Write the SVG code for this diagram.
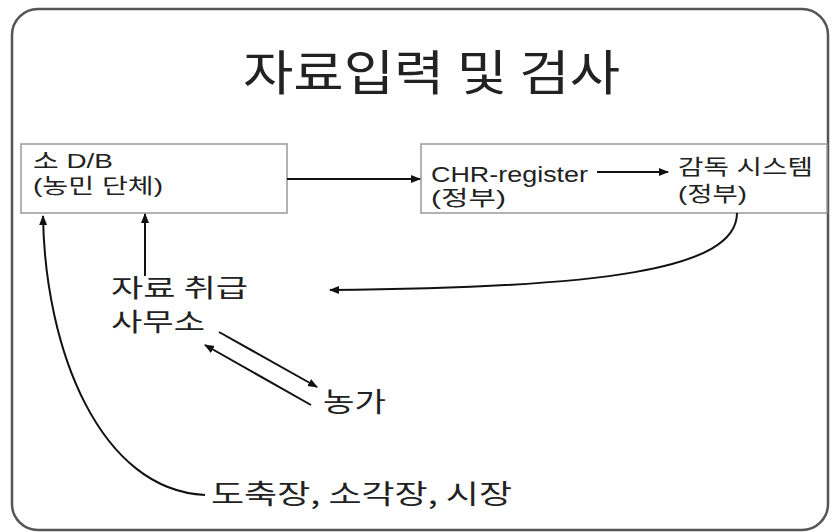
<svg xmlns="http://www.w3.org/2000/svg" width="832" height="532" viewBox="0 0 832 532">
<style>
.t{font-family:"Liberation Sans","Noto Sans CJK KR",sans-serif;fill:#222}
.k{font-family:"Noto Sans CJK KR","Liberation Sans",sans-serif;fill:#222}
.box{fill:#fff;stroke:#999;stroke-width:1.5}
.c{fill:none;stroke:#111;stroke-width:2;marker-end:url(#ah)}
</style>
<defs>
<marker id="ah" viewBox="0 0 10 10" refX="9" refY="5" markerWidth="5" markerHeight="5" orient="auto" markerUnits="strokeWidth">
<path d="M0,1 L10,5 L0,9 Z" fill="#111"/>
</marker>
</defs>
<rect x="0" y="0" width="832" height="532" fill="#fff"/>
<rect x="12" y="9" width="816" height="521" rx="26" fill="#fff" stroke="#555" stroke-width="2.5"/>
<g id="title"><text class="k" x="243" y="90" font-size="48" textLength="377" lengthAdjust="spacingAndGlyphs">자료입력 및 검사</text></g>
<g id="node-db">
<rect class="box" x="21" y="144" width="266" height="69"/>
<text class="t" x="33" y="168" font-size="21" textLength="80" lengthAdjust="spacingAndGlyphs">소 D/B</text>
<text class="t" x="33" y="193" font-size="21" textLength="130" lengthAdjust="spacingAndGlyphs">(농민 단체)</text>
</g>
<g id="node-gov">
<rect class="box" x="421" y="144" width="406" height="69"/>
<text class="t" x="431" y="182" font-size="22" textLength="157" lengthAdjust="spacingAndGlyphs">CHR-register</text>
<text class="t" x="431" y="205" font-size="21" textLength="75" lengthAdjust="spacingAndGlyphs">(정부)</text>
<text class="t" x="678" y="174" font-size="21" textLength="135" lengthAdjust="spacingAndGlyphs">감독 시스템</text>
<text class="t" x="678" y="201" font-size="21" textLength="69" lengthAdjust="spacingAndGlyphs">(정부)</text>
</g>
<g id="node-office">
<text class="k" x="111" y="297" font-size="25" textLength="137" lengthAdjust="spacingAndGlyphs">자료 취급</text>
<text class="k" x="111" y="331" font-size="25" textLength="94" lengthAdjust="spacingAndGlyphs">사무소</text>
</g>
<g id="node-farm"><text class="k" x="323" y="412" font-size="27" textLength="63" lengthAdjust="spacingAndGlyphs">농가</text></g>
<g id="node-market"><text class="k" x="211" y="504" font-size="27" textLength="301" lengthAdjust="spacingAndGlyphs">도축장, 소각장, 시장</text></g>
<g id="connectors">
<path class="c" d="M287 179 L420 179"/>
<path class="c" d="M597 172 L668 172"/>
<path class="c" d="M737 213 C737 270 600 288 330 290"/>
<path class="c" d="M145 276 L145 214"/>
<path class="c" d="M219 332 L317 387"/>
<path class="c" d="M311 405 L205 345"/>
<path class="c" d="M205 495 C100 490 45 350 43 216"/>
</g>
</svg>
